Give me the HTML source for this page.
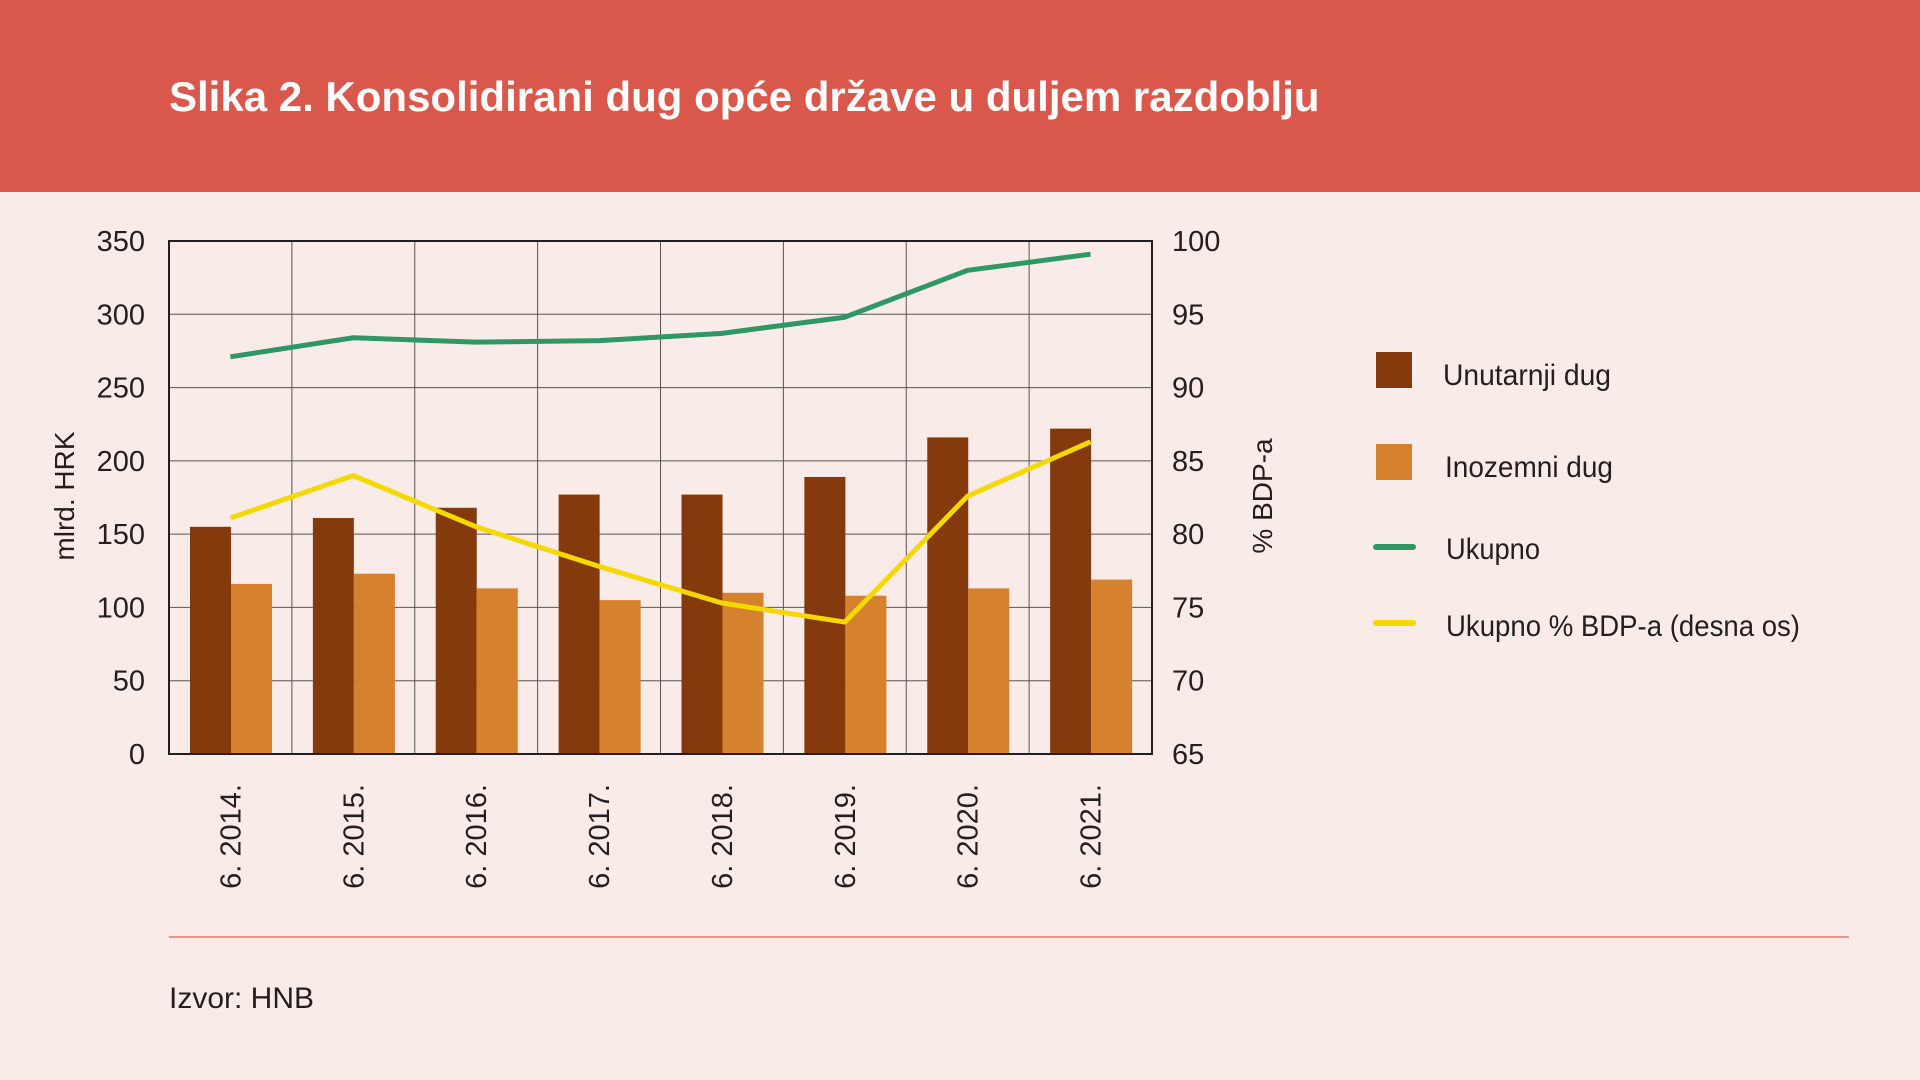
<!DOCTYPE html>
<html><head><meta charset="utf-8"><style>
html,body{margin:0;padding:0;width:1920px;height:1080px;overflow:hidden;background:#f9ebe8;}
svg{display:block}
text{font-family:"Liberation Sans Narrow","Liberation Sans",sans-serif;fill:#231f20}
</style></head><body>
<svg id="s" width="1920" height="1080" xmlns="http://www.w3.org/2000/svg">
<rect x="0" y="0" width="1920" height="192" fill="#d9574b"/>
<text x="169" y="111" style="font-family:'Liberation Sans',sans-serif;fill:#fff" font-size="42" font-weight="bold">Slika 2. Konsolidirani dug opće države u duljem razdoblju</text>
<g id="g"></g>
<line x1="169" y1="937" x2="1849" y2="937" stroke="#e07a70" stroke-width="1.5"/>
<text x="169" y="1008" style="font-family:'Liberation Sans',sans-serif" font-size="30">Izvor: HNB</text>
</svg>
<script>
(function(){
const g=document.getElementById('g');let h='';
const x0=169,cw=122.875,yTop=241,yBot=754,xR=1152;
const yl=v=>yBot-v*(yBot-yTop)/350, yr=p=>yBot-(p-65)*(yBot-yTop)/35;
const dark=[155,161,168,177,177,189,216,222],light=[116,123,113,105,110,108,113,119];
const green=[271,284,281,282,287,298,330,341],yel=[81.1,84.0,80.5,77.8,75.3,74.0,82.6,86.3];
for(let v=50;v<350;v+=50)h+=`<line x1="${x0}" x2="${xR}" y1="${yl(v)}" y2="${yl(v)}" stroke="#555" stroke-width="1"/>`;
for(let i=1;i<8;i++){const x=x0+i*cw;h+=`<line x1="${x}" x2="${x}" y1="${yTop}" y2="${yBot}" stroke="#555" stroke-width="1"/>`;}
for(let i=0;i<8;i++){const x=x0+21+i*cw;
h+=`<rect x="${x}" y="${yl(dark[i])}" width="41" height="${yBot-yl(dark[i])}" fill="#843a0c"/>`;
h+=`<rect x="${x+41}" y="${yl(light[i])}" width="41" height="${yBot-yl(light[i])}" fill="#d6812e"/>`;}
h+=`<rect x="${x0}" y="${yTop}" width="${xR-x0}" height="${yBot-yTop}" fill="none" stroke="#231f20" stroke-width="2"/>`;
const cx=i=>x0+61.4+i*cw;
h+=`<polyline fill="none" stroke="#2f9763" stroke-width="5" stroke-linejoin="round" points="${green.map((v,i)=>cx(i)+','+yl(v)).join(' ')}"/>`;
h+=`<polyline fill="none" stroke="#f4d800" stroke-width="5" stroke-linejoin="round" points="${yel.map((v,i)=>cx(i)+','+yr(v)).join(' ')}"/>`;
for(let k=0;k<=7;k++){const v=k*50,y=yl(v)+10;
h+=`<text x="145" y="${y}" font-size="29" text-anchor="end">${v}</text>`;
h+=`<text x="1172" y="${y}" font-size="29">${65+k*5}</text>`;}
const yrs=['2014','2015','2016','2017','2018','2019','2020','2021'];
for(let i=0;i<8;i++)h+=`<text transform="translate(${cx(i)+10},784) rotate(-90)" font-size="29" text-anchor="end">6. ${yrs[i]}.</text>`;
h+=`<text transform="translate(74,496) rotate(-90)" font-size="28" text-anchor="middle" style="font-family:'Liberation Sans',sans-serif">mlrd. HRK</text>`;
h+=`<text transform="translate(1272,496) rotate(-90)" font-size="28" text-anchor="middle" style="font-family:'Liberation Sans',sans-serif">% BDP-a</text>`;
h+=`<rect x="1376" y="352" width="36" height="36" fill="#843a0c"/><text x="1443" y="385" font-size="30" textLength="168" lengthAdjust="spacingAndGlyphs">Unutarnji dug</text>`;
h+=`<rect x="1376" y="444" width="36" height="36" fill="#d6812e"/><text x="1445" y="477" font-size="30" textLength="168" lengthAdjust="spacingAndGlyphs">Inozemni dug</text>`;
h+=`<line x1="1376" x2="1413" y1="547" y2="547" stroke="#2f9763" stroke-width="6" stroke-linecap="round"/><text x="1446" y="559" font-size="30" textLength="94" lengthAdjust="spacingAndGlyphs">Ukupno</text>`;
h+=`<line x1="1376" x2="1413" y1="623" y2="623" stroke="#f4d800" stroke-width="6" stroke-linecap="round"/><text x="1446" y="636" font-size="30" textLength="354" lengthAdjust="spacingAndGlyphs">Ukupno % BDP-a (desna os)</text>`;
g.innerHTML=h;
})();
</script>
</body></html>
